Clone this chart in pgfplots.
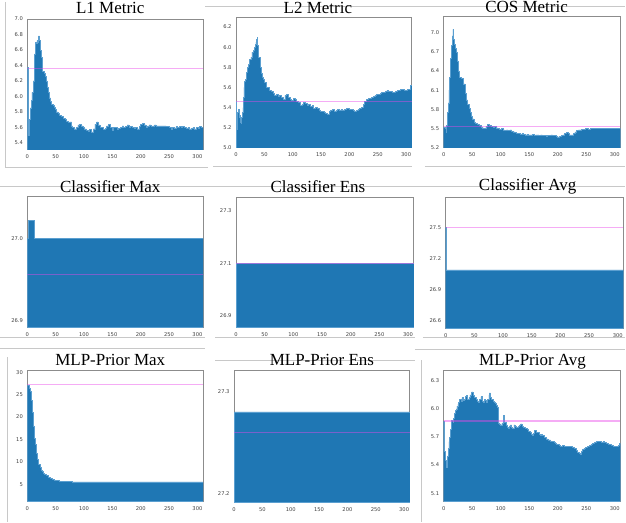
\documentclass[border=0pt]{standalone}
\usepackage{fontspec}
\setmainfont{Liberation Serif}
\newfontfamily\tickfont{DejaVu Sans}
\usepackage{pgfplots}
\pgfplotsset{compat=1.18}
\definecolor{bar}{HTML}{1F77B4}
\definecolor{baredge}{HTML}{5B9FD0}
\definecolor{frame}{HTML}{8C8C8C}
\definecolor{sep}{HTML}{C8C8C8}
\definecolor{meanc}{HTML}{E848E8}
\pgfplotsset{
  panel/.style={scale only axis, anchor=south west, xmin=0, xmax=310,
    xtick={0,50,...,300}, axis line style={frame, line width=0.9pt},
    major tick length=0pt, tick style={draw=none},
    /pgf/number format/assume math mode=true,
    ticklabel style={font=\tickfont\fontsize{5.2}{6}\selectfont, text=black!75},
    yticklabel style={/pgf/number format/fixed, /pgf/number format/fixed zerofill, /pgf/number format/precision=1},
    xticklabel style={/pgf/number format/fixed, /pgf/number format/precision=0},
    xticklabel shift=1.5pt, yticklabel shift=1pt, clip=true},
  hist/.style={const plot, fill=bar, draw=baredge, line width=0.5pt},
  meanline/.style={meanc, opacity=0.45, line width=1.2pt},
}
\begin{document}
\begin{tikzpicture}
\path (0pt,0pt) rectangle (626pt,523pt);
% separator lines from the original screenshot
\begin{scope}[sep, line width=0.8pt]
\draw (5pt,521pt) -- (5pt,355pt) -- (208pt,355pt);
\draw (205pt,517pt) -- (626pt,517pt);
\draw (213pt,356pt) -- (412pt,356pt);
\draw (425pt,356pt) -- (626pt,356pt);
\draw (0pt,336pt) -- (626pt,336pt);
\draw (0pt,185pt) -- (205pt,185pt);
\draw (215pt,185pt) -- (415pt,185pt);
\draw (423pt,185pt) -- (626pt,185pt);
\draw (0pt,174pt) -- (205pt,174pt);
\draw (7pt,165pt) -- (7pt,0pt);
\draw (215pt,162pt) -- (415pt,162pt);
\draw (415pt,173pt) -- (626pt,173pt);
\draw[line width=1.2pt] (422pt,162pt) -- (422pt,0pt);
\end{scope}

% ---------------- L1 Metric
\begin{axis}[panel, at={(27pt,373pt)}, width=176pt, height=131pt, ymin=5.31, ymax=7.0, ytick={5.4,5.6,...,7.01}]
\addplot[hist] coordinates {(0,6.37)(1,5.5)(3,5.52)(4,5.7)(5,5.85)(7,5.95)(8,6.05)(10,6.2)(12,6.4)(13,6.55)(14,6.7)(16,6.68)(17,6.72)(18,6.7)(19,6.76)(20,6.78)(21,6.72)(22,6.68)(23,6.6)(24,6.55)(25,6.5)(26,6.42)(27,6.32)(29,6.3)(31,6.26)(33,6.2)(35,6.12)(37,6.05)(39,5.98)(41,5.94)(43,5.9)(45,5.88)(47,5.86)(49,5.83)(51,5.8)(54,5.78)(57,5.75)(60,5.74)(63,5.72)(66,5.7)(69,5.68)(72,5.66)(75,5.67)(78,5.62)(80,5.6)(83,5.58)(86,5.6)(89,5.63)(92,5.64)(95,5.62)(98,5.6)(101,5.58)(104,5.56)(107,5.55)(110,5.57)(113,5.54)(116,5.58)(119,5.64)(122,5.67)(125,5.63)(128,5.6)(131,5.6)(134,5.57)(137,5.59)(140,5.62)(143,5.64)(146,5.6)(149,5.56)(152,5.6)(155,5.6)(158,5.58)(161,5.59)(164,5.6)(167,5.62)(170,5.6)(173,5.61)(176,5.63)(179,5.6)(182,5.61)(185,5.6)(188,5.59)(191,5.6)(194,5.58)(197,5.61)(200,5.64)(203,5.65)(206,5.63)(209,5.6)(212,5.62)(215,5.63)(218,5.61)(221,5.62)(224,5.63)(227,5.62)(230,5.62)(235,5.62)(240,5.62)(245,5.61)(250,5.6)(253,5.58)(256,5.6)(259,5.59)(262,5.61)(265,5.6)(268,5.61)(271,5.6)(274,5.61)(277,5.6)(280,5.59)(283,5.6)(286,5.58)(289,5.59)(292,5.6)(295,5.58)(298,5.6)(301,5.59)(304,5.61)(307,5.6)(310,5.6)} \closedcycle;
\addplot[meanline] coordinates {(0,6.365)(310,6.365)};
\end{axis}
% ---------------- L2 Metric
\begin{axis}[panel, at={(236pt,375pt)}, width=176pt, height=131pt, ymin=5.0, ymax=6.3, ytick={5.0,5.2,...,6.21}]
\addplot[hist] coordinates {(0,5.46)(1,5.33)(2,5.18)(3,5.35)(4,5.38)(5,5.36)(6,5.3)(7,5.32)(8,5.25)(9,5.24)(10,5.3)(11,5.35)(12,5.4)(13,5.5)(14,5.6)(15,5.66)(16,5.68)(18,5.75)(20,5.8)(22,5.83)(24,5.88)(26,5.9)(28,5.95)(30,5.97)(32,6.0)(34,6.03)(35,6.05)(36,6.08)(37,6.1)(38,6.02)(39,5.95)(40,5.9)(42,5.8)(44,5.74)(46,5.7)(48,5.68)(50,5.65)(53,5.6)(56,5.6)(59,5.57)(62,5.56)(65,5.54)(68,5.52)(71,5.53)(74,5.51)(77,5.52)(80,5.5)(83,5.48)(86,5.52)(89,5.53)(92,5.5)(95,5.48)(98,5.47)(101,5.49)(104,5.48)(107,5.46)(110,5.45)(113,5.42)(116,5.43)(119,5.45)(122,5.44)(125,5.42)(128,5.43)(131,5.41)(134,5.42)(137,5.39)(140,5.4)(143,5.39)(146,5.37)(149,5.36)(152,5.36)(155,5.35)(158,5.34)(161,5.33)(164,5.36)(167,5.37)(170,5.38)(173,5.36)(176,5.37)(179,5.38)(182,5.37)(185,5.38)(188,5.37)(191,5.38)(194,5.39)(197,5.39)(200,5.38)(203,5.38)(206,5.37)(209,5.36)(212,5.37)(215,5.38)(218,5.39)(221,5.4)(224,5.43)(227,5.46)(230,5.48)(233,5.49)(236,5.49)(239,5.5)(242,5.51)(245,5.52)(248,5.53)(251,5.53)(254,5.54)(257,5.55)(260,5.55)(263,5.56)(266,5.57)(269,5.56)(272,5.56)(275,5.55)(278,5.55)(281,5.56)(284,5.57)(287,5.57)(290,5.58)(293,5.58)(296,5.57)(299,5.57)(302,5.58)(305,5.58)(308,5.62)(310,5.6)} \closedcycle;
\addplot[meanline] coordinates {(0,5.46)(310,5.46)};
\end{axis}
% ---------------- COS Metric
\begin{axis}[panel, at={(444pt,375pt)}, width=177pt, height=132pt, ymin=5.2, ymax=7.26, ytick={5.2,5.5,...,7.01}]
\addplot[hist] coordinates {(0,5.52)(2,5.5)(4,5.45)(5,5.55)(6,5.6)(7,5.75)(8,5.9)(9,6.1)(10,6.3)(11,6.45)(12,6.6)(13,6.7)(14,6.8)(15,6.95)(16,7.05)(17,6.9)(18,6.85)(19,6.82)(20,6.8)(21,6.75)(22,6.7)(23,6.62)(24,6.55)(25,6.48)(26,6.4)(27,6.33)(28,6.3)(30,6.29)(32,6.28)(34,6.24)(35,6.2)(37,6.1)(38,6.05)(40,5.95)(42,5.88)(44,5.82)(46,5.75)(48,5.7)(50,5.65)(53,5.6)(56,5.58)(59,5.56)(62,5.55)(65,5.52)(68,5.51)(71,5.5)(74,5.54)(77,5.56)(80,5.55)(83,5.54)(86,5.52)(89,5.53)(92,5.51)(95,5.5)(98,5.49)(101,5.5)(104,5.48)(107,5.47)(110,5.48)(113,5.47)(116,5.48)(119,5.46)(122,5.45)(125,5.44)(128,5.43)(131,5.42)(134,5.41)(137,5.42)(140,5.41)(143,5.4)(146,5.41)(149,5.4)(152,5.4)(155,5.41)(158,5.39)(161,5.4)(164,5.4)(167,5.39)(170,5.4)(173,5.39)(176,5.39)(179,5.38)(182,5.39)(185,5.39)(188,5.4)(191,5.39)(194,5.39)(197,5.38)(200,5.37)(203,5.38)(206,5.39)(209,5.4)(212,5.42)(215,5.44)(218,5.42)(221,5.4)(224,5.4)(227,5.42)(230,5.45)(233,5.47)(236,5.48)(239,5.48)(242,5.49)(245,5.49)(248,5.5)(251,5.5)(254,5.49)(257,5.5)(260,5.5)(270,5.5)(280,5.5)(290,5.5)(300,5.5)(310,5.5)} \closedcycle;
\addplot[meanline] coordinates {(0,5.535)(310,5.535)};
\end{axis}
% ---------------- Classifier Max
\begin{axis}[panel, at={(27pt,195pt)}, width=176pt, height=131pt, ymin=26.891, ymax=27.051, ytick={26.9,27.0}]
\addplot[hist] coordinates {(0,27.0)(2,27.022)(13,27.0)(310,27.0)} \closedcycle;
\addplot[meanline] coordinates {(0,26.956)(310,26.956)};
\end{axis}
% ---------------- Classifier Ens
\begin{axis}[panel, at={(236pt,195pt)}, width=178pt, height=130pt, ymin=26.855, ymax=27.35, ytick={26.9,27.1,27.3}]
\addplot[hist] coordinates {(0,27.1)(310,27.1)} \closedcycle;
\addplot[meanline] coordinates {(0,27.1)(310,27.1)};
\end{axis}
% ---------------- Classifier Avg
\begin{axis}[panel, at={(446pt,194pt)}, width=178pt, height=131pt, ymin=26.52, ymax=27.79, ytick={26.6,26.9,27.2,27.5}]
\addplot[hist] coordinates {(0,27.5)(1,27.09)(310,27.09)} \closedcycle;
\addplot[meanline] coordinates {(0,27.5)(310,27.5)};
\end{axis}
% ---------------- MLP-Prior Max
\begin{axis}[panel, at={(27pt,21pt)}, width=176pt, height=131pt, ymin=1.2, ymax=30.4, ytick={5,10,...,30},
  yticklabel style={/pgf/number format/precision=0, /pgf/number format/fixed zerofill=false}]
\addplot[hist] coordinates {(0,27)(2,27)(3,26.8)(4,26.5)(5,25.8)(6,25)(7,23.8)(8,22.5)(9,21)(10,19.5)(11,18)(12,16.5)(13,15.2)(14,14)(15,13)(16,12)(17,11.2)(18,10.5)(19,10)(20,9.5)(22,8.8)(24,8.2)(26,7.8)(28,7.5)(30,7.2)(33,6.9)(36,6.6)(40,6.3)(44,6.05)(48,5.9)(52,5.78)(56,5.7)(60,5.62)(65,5.58)(70,5.55)(80,5.52)(90,5.5)(100,5.52)(110,5.5)(120,5.52)(130,5.5)(140,5.51)(150,5.5)(160,5.52)(170,5.5)(180,5.5)(190,5.51)(200,5.5)(210,5.52)(220,5.5)(230,5.51)(240,5.5)(250,5.5)(260,5.52)(270,5.5)(280,5.51)(290,5.5)(300,5.52)(310,5.5)} \closedcycle;
\addplot[meanline] coordinates {(0,27.3)(310,27.3)};
\end{axis}
% ---------------- MLP-Prior Ens
\begin{axis}[panel, at={(234pt,20pt)}, width=176pt, height=132pt, ymin=27.191, ymax=27.321, ytick={27.2,27.3}]
\addplot[hist] coordinates {(0,27.26)(1,27.28)(310,27.28)} \closedcycle;
\addplot[meanline] coordinates {(0,27.26)(310,27.26)};
\end{axis}
% ---------------- MLP-Prior Avg
\begin{axis}[panel, at={(444pt,21pt)}, width=177pt, height=131pt, ymin=5.015, ymax=6.41, ytick={5.1,5.4,...,6.31}]
\addplot[hist] coordinates {(0,5.87)(1,5.55)(2,5.5)(3,5.45)(4,5.4)(5,5.38)(6,5.42)(7,5.5)(8,5.58)(9,5.65)(10,5.7)(11,5.74)(12,5.78)(13,5.82)(14,5.88)(16,5.86)(17,5.9)(19,5.95)(20,5.98)(22,6.0)(23,6.03)(25,6.05)(26,6.07)(28,6.1)(30,6.08)(32,6.12)(34,6.09)(36,6.1)(38,6.13)(40,6.14)(42,6.1)(44,6.12)(46,6.15)(48,6.16)(49,6.18)(51,6.14)(53,6.12)(55,6.12)(57,6.1)(59,6.08)(61,6.07)(63,6.1)(65,6.13)(67,6.08)(69,6.07)(71,6.1)(73,6.09)(75,6.07)(77,6.1)(79,6.15)(80,6.17)(82,6.12)(84,6.1)(86,6.08)(88,6.07)(90,6.06)(92,6.04)(94,6.02)(96,5.85)(98,5.84)(100,5.83)(102,5.85)(104,5.9)(105,5.93)(107,5.86)(109,5.83)(111,5.8)(113,5.79)(115,5.82)(117,5.83)(119,5.8)(121,5.79)(123,5.83)(125,5.82)(127,5.8)(129,5.8)(131,5.81)(133,5.83)(135,5.84)(137,5.81)(139,5.8)(141,5.8)(143,5.79)(145,5.79)(147,5.78)(149,5.76)(151,5.75)(153,5.73)(155,5.72)(157,5.74)(159,5.77)(161,5.77)(163,5.75)(165,5.75)(167,5.73)(169,5.72)(171,5.73)(173,5.72)(175,5.72)(177,5.7)(179,5.68)(181,5.68)(183,5.67)(185,5.67)(187,5.66)(189,5.65)(191,5.65)(193,5.64)(195,5.63)(197,5.62)(199,5.62)(201,5.62)(203,5.61)(205,5.6)(208,5.61)(211,5.6)(214,5.6)(217,5.6)(220,5.6)(223,5.6)(226,5.59)(229,5.58)(232,5.56)(235,5.54)(237,5.53)(239,5.52)(241,5.55)(243,5.57)(246,5.58)(249,5.59)(252,5.6)(255,5.61)(258,5.62)(261,5.63)(264,5.64)(267,5.65)(270,5.65)(273,5.65)(276,5.64)(279,5.65)(282,5.64)(285,5.63)(288,5.62)(291,5.62)(294,5.61)(297,5.6)(300,5.6)(303,5.6)(306,5.61)(308,5.63)(310,5.62)} \closedcycle;
\addplot[meanline] coordinates {(0,5.87)(310,5.87)};
\end{axis}

% titles
\begin{scope}[every node/.style={font=\fontsize{17}{18}\selectfont, inner sep=0pt, anchor=center}]
\node at (110pt,515pt) {L1 Metric};
\node at (318pt,515pt) {L2 Metric};
\node at (527pt,516pt) {COS Metric};
\node at (110pt,336pt) {Classifier Max};
\node at (318pt,336pt) {Classifier Ens};
\node at (528pt,336pt) {Classifier Avg};
\node at (110pt,162pt) {MLP-Prior Max};
\node at (322pt,162pt) {MLP-Prior Ens};
\node at (533pt,161pt) {MLP-Prior Avg};
\end{scope}
\end{tikzpicture}
\end{document}
